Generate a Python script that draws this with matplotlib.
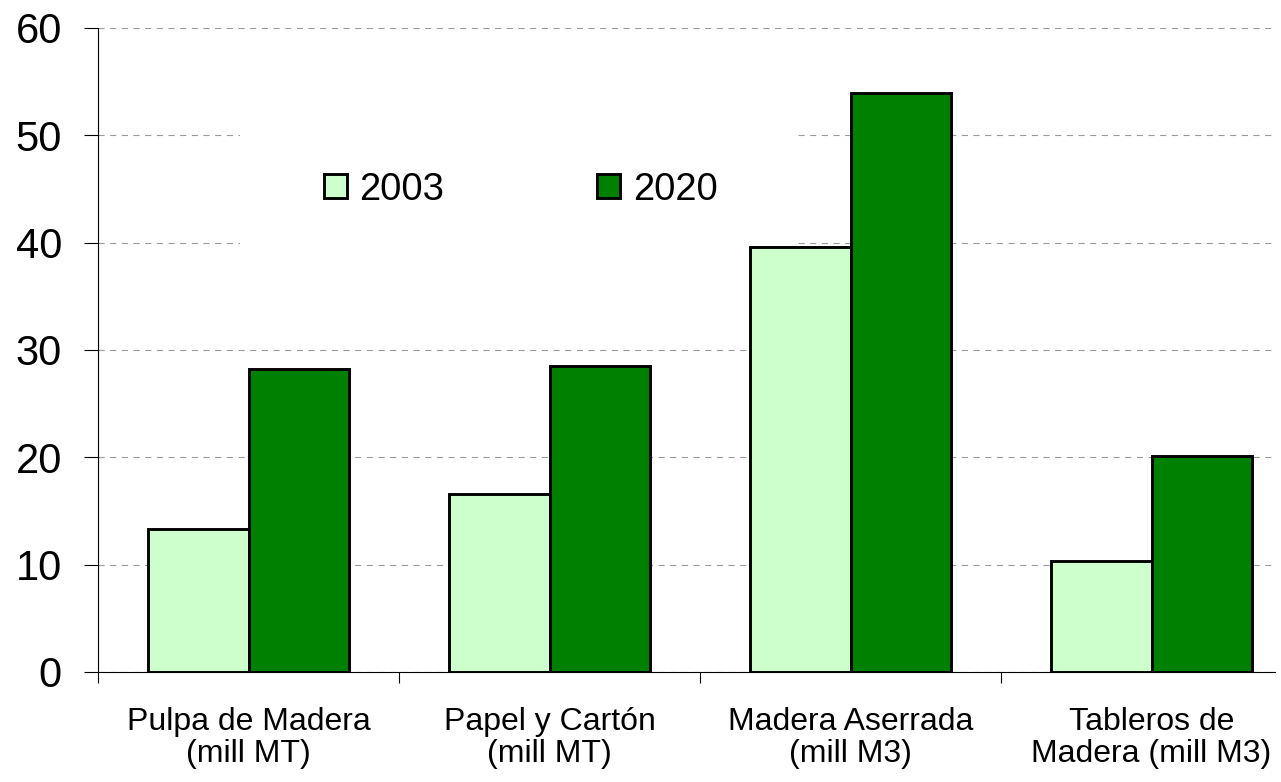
import matplotlib
matplotlib.use("Agg")
import matplotlib.pyplot as plt
from matplotlib.patches import Rectangle
import numpy as np

# Data
categories = ["Pulpa de Madera\n(mill MT)", "Papel y Cartón\n(mill MT)",
              "Madera Aserrada\n(mill M3)", "Tableros de\nMadera (mill M3)"]
years = ["2003", "2020"]
values_2003 = [13.3, 16.6, 39.6, 10.3]
values_2020 = [28.2, 28.5, 53.9, 20.1]
yticks = [0, 10, 20, 30, 40, 50, 60]

colors = ["#CCFFCC", "#008000"]

plt.rcParams["font.family"] = ["Liberation Sans", "DejaVu Sans"]

fig = plt.figure(figsize=(12.81, 7.82), dpi=100)
ax = fig.add_axes([0.0765, 0.1407, 0.9188, 0.8235])

x = np.arange(len(categories))
w = 0.333
ax.bar(x - w / 2, values_2003, w, color=colors[0], edgecolor="black",
       linewidth=2.1, label=years[0], zorder=2)
ax.bar(x + w / 2, values_2020, w, color=colors[1], edgecolor="black",
       linewidth=2.1, label=years[1], zorder=2)

ax.set_xlim(-0.5, 3.41)
ax.set_ylim(0, 60)
ax.set_yticks(yticks)
ax.tick_params(axis="y", labelsize=30, length=10, width=0.8, pad=16)

ax.set_xticks(x)
ax.set_xticklabels(categories, fontsize=23, linespacing=1.1)
ax.set_xticks(np.arange(-0.5, 3.5, 1.0), minor=True)
ax.tick_params(axis="x", which="major", length=0, pad=25)
ax.tick_params(axis="x", which="minor", length=8, width=0.8)

ax.grid(axis="y", color="#999999", linestyle=(0, (5.5, 5)), linewidth=0.8)
ax.set_axisbelow(True)
for s in ["top", "right"]:
    ax.spines[s].set_visible(False)
ax.spines["left"].set_linewidth(0.8)
ax.spines["bottom"].set_linewidth(0.8)

# white box behind legend (hides gridlines like the original)
ax.add_patch(Rectangle((0.1206, 0.661), 0.4715, 0.18, transform=ax.transAxes,
                       facecolor="white", edgecolor="none", zorder=1))

leg = ax.legend(loc="center left", bbox_to_anchor=(0.192, 0.749), ncol=2,
                frameon=False, fontsize=27.5, handlelength=0.6, handleheight=0.6,
                handletextpad=0.33, columnspacing=4.0, borderpad=0,
                borderaxespad=0)
leg.set_zorder(3)

fig.savefig("out.png", dpi=100)
